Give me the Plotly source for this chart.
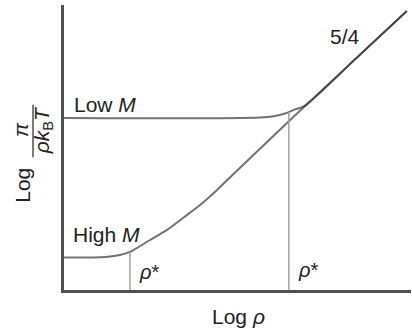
import plotly.graph_objects as go

# Schematic: reduced osmotic pressure vs. concentration (log-log)
# Low-molecular-weight curve: plateau, then crossover onto the 5/4 law
low_x = [0.0, 5.65, 6.08, 6.37, 6.66, 6.95, 8.40, 9.88]
low_y = [6.64, 6.66, 6.72, 6.81, 6.97, 7.12, 8.92, 10.77]

# High-molecular-weight curve: lower plateau, earlier and broader crossover
high_x = [0.0, 1.04, 1.33, 1.61, 1.90, 2.48, 2.97, 3.43, 3.92, 4.41, 4.87, 5.45, 7.00, 9.88]
high_y = [1.25, 1.26, 1.29, 1.35, 1.47, 1.93, 2.32, 2.78, 3.28, 3.86, 4.46, 5.20, 7.17, 10.77]

# Overlap concentrations rho* and the curve heights where they are marked
rho_star_x = [1.90, 6.48]
rho_star_top = [1.47, 6.86]

X_RANGE = [0, 10]
Y_RANGE = [0, 11]

# semi-transparent so the shared 5/4 branch reads darker where both curves lie
CURVE = "rgba(40,40,40,0.65)"
GUIDE = "#a0a0a0"
AXIS = "#505050"
TEXT = "#222222"
FONT = "Liberation Sans, Arial, sans-serif"

fig = go.Figure()

for xs, ys in [(low_x, low_y), (high_x, high_y)]:
    fig.add_trace(go.Scatter(x=xs, y=ys, mode="lines",
                             line=dict(color=CURVE, width=2, shape="spline", smoothing=0.8),
                             hoverinfo="skip", showlegend=False))

for xv, top in zip(rho_star_x, rho_star_top):
    fig.add_trace(go.Scatter(x=[xv, xv], y=[0, top], mode="lines",
                             line=dict(color=GUIDE, width=1.5),
                             hoverinfo="skip", showlegend=False))

def label(text, x, y, size=21, xanchor="left", xref="x", yref="y", angle=0):
    fig.add_annotation(text=text, x=x, y=y, xref=xref, yref=yref,
                       xanchor=xanchor, yanchor="middle", showarrow=False,
                       textangle=angle, font=dict(family=FONT, size=size, color=TEXT))

label("Low <i>M</i>", 0.22, 7.15)
label("High <i>M</i>", 0.20, 2.16)
label("5/4", 7.62, 9.80)
label("<i>ρ</i>*", 2.10, 0.69, size=20)
label("<i>ρ</i>*", 6.68, 0.77, size=20)

# x-axis title
label("Log <i>ρ</i>", 5.04, -0.094, xanchor="center", yref="paper")

# y-axis title: Log  π / (ρ k_B T), built from rotated pieces
label("Log", -0.122, 0.368, xanchor="center", xref="paper", yref="paper", angle=-90)
label("<i>π</i>", -0.124, 0.565, xanchor="center", xref="paper", yref="paper", angle=-90)
label("<i>ρk</i><sub>B</sub><i>T</i>", -0.060, 0.561, xanchor="center",
      xref="paper", yref="paper", angle=-90)
fig.add_shape(type="line", xref="paper", yref="paper",
              x0=-0.0893, x1=-0.0893, y0=0.466, y1=0.650,
              line=dict(color=TEXT, width=1.2))

fig.update_xaxes(range=X_RANGE, showline=True, linecolor=AXIS, linewidth=2.5,
                 showgrid=False, zeroline=False, showticklabels=False, ticks="")
fig.update_yaxes(range=Y_RANGE, showline=True, linecolor=AXIS, linewidth=2.5,
                 showgrid=False, zeroline=False, showticklabels=False, ticks="")

fig.update_layout(width=412, height=331,
                  margin=dict(l=64, r=1, t=5, b=41),
                  plot_bgcolor="white", paper_bgcolor="white")

fig.write_html("out.html")
